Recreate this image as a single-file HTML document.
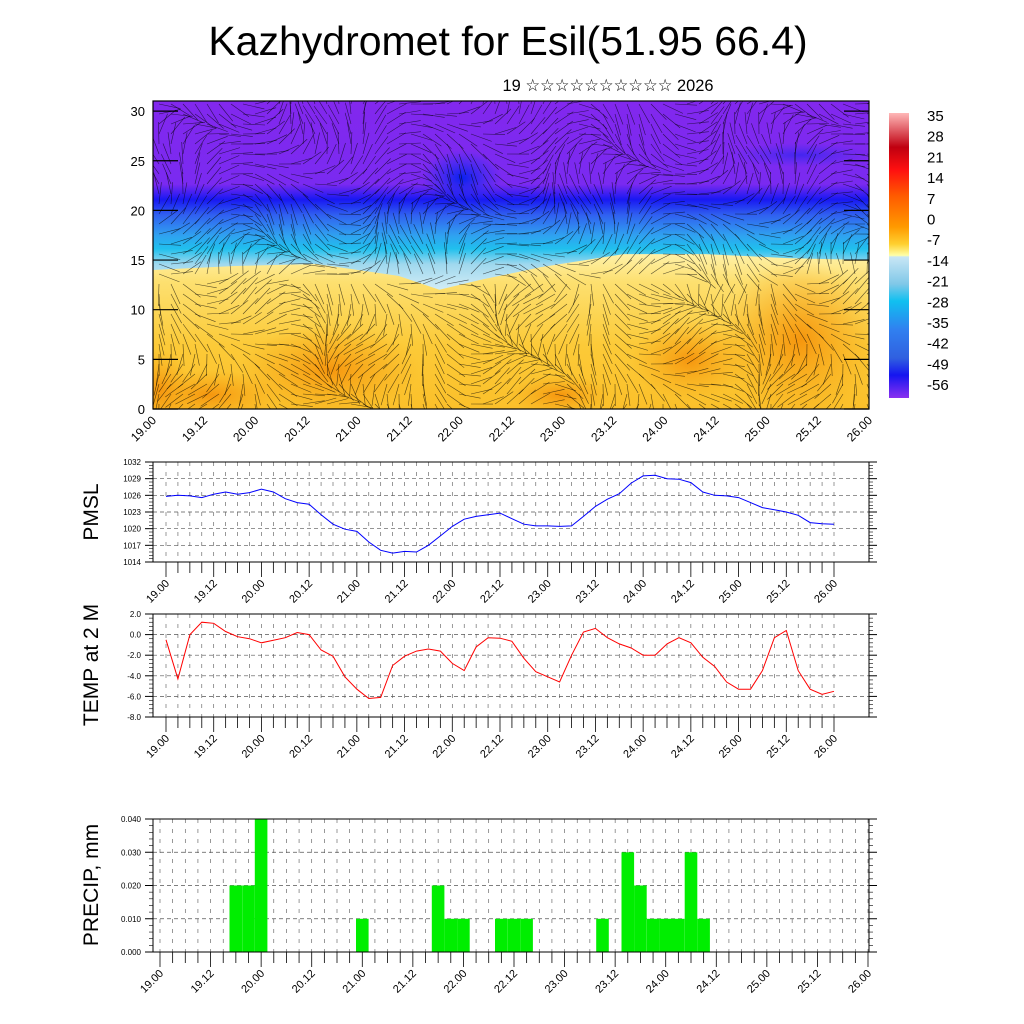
<!DOCTYPE html>
<html><head><meta charset="utf-8">
<style>
html,body{margin:0;padding:0;background:#fff;}
svg{display:block;font-family:"Liberation Sans","DejaVu Sans",sans-serif;}
</style></head>
<body>
<svg id="chart" width="1024" height="1024" viewBox="0 0 1024 1024" xmlns="http://www.w3.org/2000/svg">
<defs>
<linearGradient id="cbar" x1="0" y1="0" x2="0" y2="1">
<stop offset="0" stop-color="#ffb8b8"/><stop offset="0.12" stop-color="#c00010"/><stop offset="0.2" stop-color="#ff1010"/>
<stop offset="0.29" stop-color="#ff5a00"/><stop offset="0.4" stop-color="#ff9a00"/><stop offset="0.46" stop-color="#ffd030"/>
<stop offset="0.5" stop-color="#ffffa8"/><stop offset="0.505" stop-color="#c8e6f5"/><stop offset="0.6" stop-color="#80c8e8"/>
<stop offset="0.66" stop-color="#10c0f0"/><stop offset="0.76" stop-color="#3080f0"/><stop offset="0.86" stop-color="#3060e0"/>
<stop offset="0.92" stop-color="#1515f0"/><stop offset="1" stop-color="#8a30f0"/>
</linearGradient>
<linearGradient id="cold" gradientUnits="userSpaceOnUse" x1="0" y1="101" x2="0" y2="409">
<stop offset="0" stop-color="#8228ee"/><stop offset="0.27" stop-color="#7a2af0"/><stop offset="0.32" stop-color="#1818f2"/>
<stop offset="0.37" stop-color="#3060f0"/><stop offset="0.435" stop-color="#30a0f0"/><stop offset="0.48" stop-color="#20c0ee"/>
<stop offset="0.53" stop-color="#a0d8ee"/><stop offset="0.61" stop-color="#d0ecf6"/><stop offset="1" stop-color="#d8eef6"/>
</linearGradient>
<linearGradient id="warm" gradientUnits="userSpaceOnUse" x1="0" y1="250" x2="0" y2="409">
<stop offset="0" stop-color="#fff4b0"/><stop offset="0.2" stop-color="#fde070"/><stop offset="0.6" stop-color="#fcca38"/><stop offset="1" stop-color="#fbc02a"/>
</linearGradient>
<radialGradient id="orng"><stop offset="0" stop-color="#f6960e"/><stop offset="1" stop-color="#f6a818" stop-opacity="0"/></radialGradient>
<radialGradient id="dblue"><stop offset="0" stop-color="#0a20f0"/><stop offset="1" stop-color="#2030f0" stop-opacity="0"/></radialGradient>
<clipPath id="topclip"><rect x="153" y="101" width="716" height="308"/></clipPath>
</defs>
<text x="508" y="55" font-size="41" text-anchor="middle">Kazhydromet for Esil(51.95 66.4)</text>
<text x="608" y="91" font-size="17" text-anchor="middle" textLength="211" lengthAdjust="spacingAndGlyphs">19 ☆☆☆☆☆☆☆☆☆☆ 2026</text>
<g id="top"></g>
<g id="cb"></g>
<g id="pmsl"></g>
<g id="temp"></g>
<g id="precip"></g>
</svg>
<script>
const NS="http://www.w3.org/2000/svg";
const xLabels=["19.00","19.12","20.00","20.12","21.00","21.12","22.00","22.12","23.00","23.12","24.00","24.12","25.00","25.12","26.00"];
const pmslTicks=[1014,1017,1020,1023,1026,1029,1032];
const tempTicks=[-8,-6,-4,-2,0,2];
const tempTickLabels=["-8.0","-6.0","-4.0","-2.0","0.0","2.0"];
const precipTicks=[0,0.01,0.02,0.03,0.04];
const precipTickLabels=["0.000","0.010","0.020","0.030","0.040"];
const heightTicks=[0,5,10,15,20,25,30];
const cbarLabels=["35","28","21","14","7","0","-7","-14","-21","-28","-35","-42","-49","-56"];
const pmsl=[1025.8,1026,1025.9,1025.6,1026.2,1026.6,1026.2,1026.5,1027.1,1026.6,1025.4,1024.7,1024.4,1022.5,1020.8,1019.9,1019.5,1017.6,1016.1,1015.6,1015.9,1015.8,1017,1018.7,1020.4,1021.7,1022.2,1022.5,1022.8,1021.8,1020.8,1020.5,1020.5,1020.4,1020.5,1022.2,1024,1025.3,1026.3,1028.2,1029.5,1029.6,1029,1028.9,1028.3,1026.6,1026,1025.9,1025.6,1024.7,1023.8,1023.4,1023,1022.4,1021.1,1020.9,1020.8];
const temp=[-0.5,-4.3,0,1.2,1.1,0.3,-0.2,-0.4,-0.8,-0.55,-0.3,0.2,0,-1.5,-2.1,-4.1,-5.3,-6.2,-6.1,-3,-2.1,-1.6,-1.4,-1.6,-2.8,-3.5,-1.2,-0.3,-0.35,-0.65,-2.3,-3.6,-4.1,-4.6,-2,0.25,0.6,-0.3,-0.9,-1.3,-2,-2,-0.9,-0.3,-0.8,-2.2,-3.1,-4.6,-5.3,-5.3,-3.5,-0.3,0.4,-3.5,-5.3,-5.8,-5.5];
const precip=[0,0,0,0,0,0,0.02,0.02,0.04,0,0,0,0,0,0,0,0.01,0,0,0,0,0,0.02,0.01,0.01,0,0,0.01,0.01,0.01,0,0,0,0,0,0.01,0,0.03,0.02,0.01,0.01,0.01,0.03,0.01,0,0,0,0,0,0,0,0,0,0,0,0,0];

function el(tag,attrs,parent,txt){const e=document.createElementNS(NS,tag);for(const k in attrs)e.setAttribute(k,attrs[k]);if(txt!==undefined)e.textContent=txt;parent.appendChild(e);return e;}

/* ---------- top cross-section ---------- */
(function(){
const g=document.getElementById('top');
const X0=153,X1=869,Y0=101,Y1=409;
const hy=v=>409-v*9.93;
const cg=el('g',{'clip-path':'url(#topclip)'},g);
const bg=el('rect',{x:X0,y:Y0,width:716,height:308,fill:'url(#cold)'},cg);


const bnd=[[0,14],[0.8,14.4],[1.6,14.6],[2.4,13.4],[2.8,12],[3.2,13],[3.8,14.3],[4.6,15.6],[5.4,15.6],[6.2,15.2],[7,15]];
const bx=d=>X0+d/7*716;
let d='M'+X0+','+Y1;bnd.forEach(p=>{d+=' L'+bx(p[0]).toFixed(1)+','+hy(p[1]).toFixed(1);});d+=' L'+X1+','+Y1+' Z';
const warm=el('path',{d:d,fill:'url(#warm)'},cg);


[[330,370,90,45],[210,395,70,25],[800,340,80,80],[690,360,60,40],[160,390,30,40],[560,395,50,20]].forEach(b=>{el('ellipse',{cx:b[0],cy:b[1],rx:b[2],ry:b[3],fill:'url(#orng)'},cg);});
el('ellipse',{cx:462,cy:178,rx:40,ry:28,fill:'url(#dblue)'},cg);
el('ellipse',{cx:800,cy:155,rx:70,ry:12,fill:'url(#dblue)',opacity:0.5},cg);
const wg=el('g',{stroke:'#000','stroke-width':0.6,'stroke-opacity':0.65},cg);


for(let i=0;i<60;i++){for(let j=0;j<31;j++){
 const x=X0+6+i*12,y=Y1-5-j*10;
 const a=Math.sin(i*0.37+j*0.21)*1.1+Math.cos(i*0.13-j*0.4)*0.7+(j>12?-0.4:0.9);
 const L=22;
 el('line',{x1:x.toFixed(1),y1:y.toFixed(1),x2:(x+L*Math.cos(a)).toFixed(1),y2:(y+L*Math.sin(a)).toFixed(1)},wg);
}}
el('rect',{x:X0,y:Y0,width:716,height:308,fill:'none',stroke:'#000','stroke-width':1.2},g);
heightTicks.forEach(v=>{const y=hy(v);
 el('line',{x1:X0,y1:y,x2:X0+25,y2:y,stroke:'#000','stroke-width':1.2},g);
 el('line',{x1:X1-25,y1:y,x2:X1,y2:y,stroke:'#000','stroke-width':1.2},g);
 const t=el('text',{x:145,y:y+5,'font-size':13,'text-anchor':'end'},g,String(v));
 
 });
xLabels.forEach((s,i)=>{const x=X0+i*716/14;
 const t=el('text',{x:x+4,y:421,'font-size':12,'text-anchor':'end',transform:`rotate(-45 ${x+4} 421)`},g,s);
 
 });
})();

/* ---------- colorbar ---------- */
(function(){
const g=document.getElementById('cb');
el('rect',{x:889,y:113,width:20,height:285,fill:'url(#cbar)'},g);
cbarLabels.forEach((s,i)=>{const t=el('text',{x:927,y:121+i*20.7,'font-size':15},g,s);
 
 });
})();

/* ---------- line / bar panels ---------- */
function panel(gid,top,bot,ymin,ymax,ticks,tickLabels,title,titleY,xa,xb){
 const g=document.getElementById(gid);
 const X0=153,X1=869;
 const sy=v=>bot-(v-ymin)/(ymax-ymin)*(bot-top);
 const sx=i=>xa+i*(xb-xa)/56;
 for(let i=0;i<=56;i++){el('line',{x1:sx(i),y1:top,x2:sx(i),y2:bot,stroke:'#555','stroke-width':0.6,'stroke-dasharray':'4 6'},g);}
 ticks.forEach((v,k)=>{const y=sy(v);
  if(k>0&&k<ticks.length-1)el('line',{x1:X0,y1:y,x2:X1,y2:y,stroke:'#555','stroke-width':0.7,'stroke-dasharray':'4 3'},g);
  el('line',{x1:X0-8,y1:y,x2:X0,y2:y,stroke:'#000'},g);
  el('line',{x1:X1,y1:y,x2:X1+8,y2:y,stroke:'#000'},g);
  const t=el('text',{x:X0-4-8,y:y+3,'font-size':8,'text-anchor':'end'},g,tickLabels[k]);
  
  
  if(k<ticks.length-1){for(let m=1;m<5;m++){const ym=sy(v+(ticks[k+1]-v)*m/5);
   el('line',{x1:X0-4,y1:ym,x2:X0,y2:ym,stroke:'#000','stroke-width':0.6},g);
   el('line',{x1:X1,y1:ym,x2:X1+4,y2:ym,stroke:'#000','stroke-width':0.6},g);}}
 });
 for(let i=0;i<=56;i++){el('line',{x1:sx(i),y1:bot,x2:sx(i),y2:bot+(i%4==0?15:11),stroke:'#000','stroke-width':0.8},g);}
 xLabels.forEach((s,i)=>{const x=sx(i*4)+4,y=bot+22;
  const t=el('text',{x:x,y:y,'font-size':11,'text-anchor':'end',transform:`rotate(-45 ${x} ${y})`},g,s);
  
  });
 const tt=el('text',{x:98,y:titleY,'font-size':21,'text-anchor':'middle',transform:`rotate(-90 98 ${titleY})`},g,title);
 
 
 return {g,sx,sy,frame:()=>el('rect',{x:X0,y:top,width:716,height:bot-top,fill:'none',stroke:'#000','stroke-width':1},g)};
}
(function(){
 const p=panel('pmsl',462,562,1014,1032,pmslTicks,pmslTicks.map(String),'PMSL',512,166,834);
 const l=el('polyline',{points:pmsl.map((v,i)=>p.sx(i).toFixed(1)+','+p.sy(v).toFixed(1)).join(' '),fill:'none',stroke:'#0000ff','stroke-width':1},p.g);
 
 
 p.frame();
})();
(function(){
 const p=panel('temp',614,717,-8,2,tempTicks,tempTickLabels,'TEMP at 2 M',665,166,834);
 const l=el('polyline',{points:temp.map((v,i)=>p.sx(i).toFixed(1)+','+p.sy(v).toFixed(1)).join(' '),fill:'none',stroke:'#ff0000','stroke-width':1},p.g);
 
 
 p.frame();
})();
(function(){
 const p=panel('precip',819,952,0,0.04,precipTicks,precipTickLabels,'PRECIP, mm',885,160,868);
 const w=(868-160)/56;
 precip.forEach((v,i)=>{if(v<=0)return;
  const b=el('rect',{x:(p.sx(i)-w/2).toFixed(1),y:p.sy(v).toFixed(1),width:w.toFixed(1),height:(p.sy(0)-p.sy(v)).toFixed(1),fill:'#00ee00'},p.g);
  
  });
 p.frame();
})();
</script>
</body></html>
